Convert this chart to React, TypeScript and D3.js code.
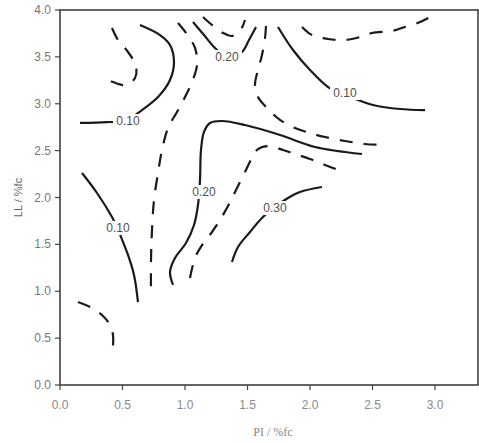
import React from "react";
import * as d3 from "d3";

// Contour traces in data units: [PI, LL]
type Pt = [number, number];

const xTicks = [0, 0.5, 1.0, 1.5, 2.0, 2.5, 3.0];
const yTicks = [0, 0.5, 1.0, 1.5, 2.0, 2.5, 3.0, 3.5, 4.0];

// Solid contours
const solidUpperLeft: Pt[] = [
  [0.16, 2.795], [0.376, 2.805], [0.52, 2.816], [0.656, 2.933], [0.784, 3.072],
  [0.88, 3.253], [0.912, 3.445], [0.88, 3.627], [0.8, 3.733], [0.64, 3.84],
];
const solidLowerLeft: Pt[] = [
  [0.176, 2.261], [0.296, 2.048], [0.416, 1.792], [0.456, 1.685], [0.488, 1.579],
  [0.544, 1.387], [0.592, 1.173], [0.624, 0.885],
];
const solidTopU: Pt[] = [
  [1.064, 3.872], [1.152, 3.733], [1.24, 3.595], [1.344, 3.488], [1.456, 3.552],
  [1.512, 3.68], [1.568, 3.819],
];
const solidTopRight: Pt[] = [
  [1.744, 3.819], [1.864, 3.573], [2.0, 3.36], [2.144, 3.179], [2.28, 3.093],
  [2.384, 3.04], [2.504, 2.987], [2.72, 2.944], [2.92, 2.933],
];
const solidMiddle: Pt[] = [
  [0.904, 1.067], [0.88, 1.205], [0.92, 1.355], [1.008, 1.515], [1.072, 1.707],
  [1.104, 1.92], [1.12, 2.187], [1.128, 2.507], [1.152, 2.699], [1.2, 2.795],
  [1.296, 2.816], [1.48, 2.773], [1.76, 2.667], [2.04, 2.539], [2.416, 2.464],
];
const solidLowerRight: Pt[] = [
  [1.376, 1.312], [1.424, 1.472], [1.52, 1.632], [1.616, 1.781], [1.72, 1.899],
  [1.824, 1.995], [1.92, 2.059], [2.096, 2.112],
];

// Dashed contours
const dashedInnerLeft: Pt[] = [
  [0.416, 3.808], [0.464, 3.68], [0.544, 3.552], [0.608, 3.403], [0.6, 3.275],
  [0.528, 3.2], [0.424, 3.232], [0.344, 3.285],
];
const dashedCentral: Pt[] = [
  [0.944, 3.861], [1.008, 3.755], [1.08, 3.595], [1.096, 3.413], [1.056, 3.232],
  [1.0, 3.072], [0.936, 2.912], [0.864, 2.741], [0.816, 2.507], [0.784, 2.261],
  [0.752, 1.973], [0.736, 1.653], [0.728, 1.333], [0.728, 0.96],
];
const dashedTopU: Pt[] = [
  [1.144, 3.925], [1.216, 3.84], [1.304, 3.755], [1.376, 3.723], [1.44, 3.776], [1.48, 3.893],
];
const dashedBend: Pt[] = [
  [1.648, 3.829], [1.64, 3.701], [1.616, 3.52], [1.584, 3.36], [1.56, 3.2],
  [1.584, 3.072], [1.656, 2.955], [1.76, 2.827], [1.88, 2.741], [2.0, 2.688],
  [2.12, 2.645], [2.28, 2.603], [2.44, 2.571], [2.592, 2.56],
];
const dashedTopRight: Pt[] = [
  [1.936, 3.819], [2.016, 3.733], [2.144, 3.691], [2.28, 3.68], [2.4, 3.712],
  [2.496, 3.755], [2.656, 3.776], [2.76, 3.819], [2.88, 3.872], [2.96, 3.925],
];
const dashedMiddle: Pt[] = [
  [1.04, 1.141], [1.08, 1.355], [1.136, 1.493], [1.216, 1.632], [1.28, 1.76],
  [1.344, 1.909], [1.408, 2.08], [1.48, 2.272], [1.536, 2.421], [1.584, 2.517],
  [1.664, 2.549], [1.784, 2.507], [1.88, 2.464], [2.0, 2.411], [2.12, 2.347], [2.248, 2.283],
];
const dashedLowerLeft: Pt[] = [
  [0.144, 0.885], [0.256, 0.821], [0.344, 0.736], [0.4, 0.64], [0.424, 0.533], [0.424, 0.416],
];

const solidContours = [solidUpperLeft, solidLowerLeft, solidTopU, solidTopRight, solidMiddle, solidLowerRight];
const dashedContours = [dashedInnerLeft, dashedCentral, dashedTopU, dashedBend, dashedTopRight, dashedMiddle, dashedLowerLeft];

// Contour level labels placed on the solid lines
const labelText = ["0.10", "0.10", "0.20", "0.10", "0.20", "0.30"];
const labelPos: Pt[] = [
  [0.544, 2.816], [0.464, 1.675], [1.336, 3.499], [2.28, 3.115], [1.152, 2.059], [1.72, 1.888],
];

const W = 479;
const H = 443;
const left = 60;
const right = 478;
const top = 10;
const bottom = 385;

export default function App() {
  const x = d3.scaleLinear().domain([0, 3.344]).range([left, right]);
  const y = d3.scaleLinear().domain([0, 4]).range([bottom, top]);
  const line = d3
    .line<Pt>()
    .x((d) => x(d[0]))
    .y((d) => y(d[1]))
    .curve(d3.curveCatmullRom.alpha(0.5));

  const sans = "Liberation Sans, Arial, sans-serif";

  return (
    <svg
      width={W}
      height={H}
      style={{ position: "absolute", left: 0, top: 0, background: "#fff" }}
    >
      <rect x={0} y={0} width={W} height={H} fill="#fff" />

      {solidContours.map((c, i) => (
        <path key={"s" + i} d={line(c) ?? ""} fill="none" stroke="#1a1a1a" strokeWidth={2.2} />
      ))}
      {dashedContours.map((c, i) => (
        <path
          key={"d" + i}
          d={line(c) ?? ""}
          fill="none"
          stroke="#1a1a1a"
          strokeWidth={2.2}
          strokeDasharray="13,11"
        />
      ))}

      {labelText.map((t, i) => (
        <g key={"l" + i} transform={`translate(${x(labelPos[i][0])},${y(labelPos[i][1])})`}>
          <rect x={-15} y={-7} width={30} height={14} fill="#fff" />
          <text
            textAnchor="middle"
            dominantBaseline="central"
            fontFamily={sans}
            fontSize={12}
            fill="#505050"
          >
            {t}
          </text>
        </g>
      ))}

      {/* frame */}
      <rect
        x={left}
        y={top}
        width={right - left}
        height={bottom - top}
        fill="none"
        stroke="#333"
        strokeWidth={1.5}
      />

      {/* y axis ticks */}
      {yTicks.map((t) => (
        <g key={"yt" + t}>
          <line x1={left - 5} x2={left} y1={y(t)} y2={y(t)} stroke="#444" strokeWidth={1.2} />
          <text
            x={left - 9}
            y={y(t)}
            textAnchor="end"
            dominantBaseline="central"
            fontFamily={sans}
            fontSize={12}
            fill="#777"
          >
            {t.toFixed(1)}
          </text>
        </g>
      ))}

      {/* x axis ticks */}
      {xTicks.map((t) => (
        <g key={"xt" + t}>
          <line x1={x(t)} x2={x(t)} y1={bottom} y2={bottom + 5} stroke="#444" strokeWidth={1.2} />
          <text
            x={x(t)}
            y={bottom + 24}
            textAnchor="middle"
            fontFamily={sans}
            fontSize={12}
            fill="#8a8a8a"
          >
            {t.toFixed(1)}
          </text>
        </g>
      ))}

      <text
        x={273}
        y={436}
        textAnchor="middle"
        fontFamily="Liberation Serif, Times New Roman, serif"
        fontSize={12}
        fill="#888"
      >
        PI / %fc
      </text>
      <text
        transform={`translate(18,${(top + bottom) / 2}) rotate(-90)`}
        textAnchor="middle"
        dominantBaseline="central"
        fontFamily={sans}
        fontSize={11}
        fill="#666"
      >
        LL / %fc
      </text>
    </svg>
  );
}
